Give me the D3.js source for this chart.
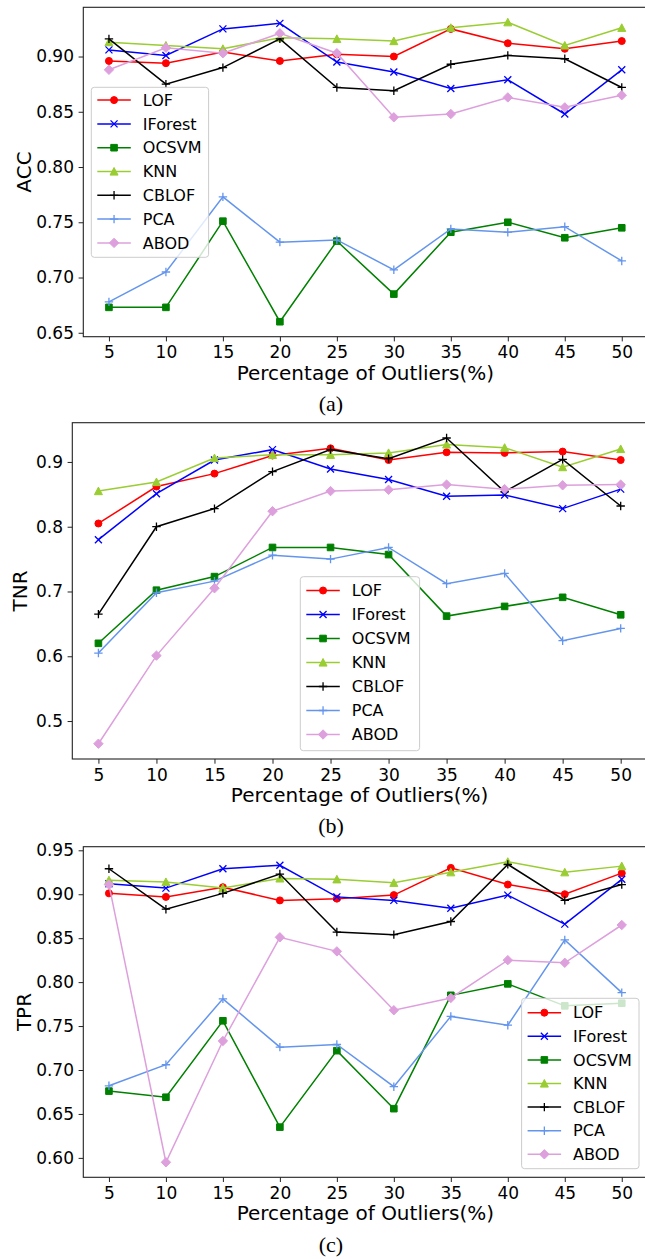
<!DOCTYPE html>
<html>
<head>
<meta charset="utf-8">
<script src="https://cdn.jsdelivr.net/npm/d3@7"></script>
<style>
	body { margin: 0; background: #fff; }
	svg { display: block; }
	text { font-family: "DejaVu Sans", sans-serif; fill: #000; }
</style>
</head>
<body>
<svg id="fig"></svg>
<script>
// outlier percentages on the x axis
const percentages = [5, 10, 15, 20, 25, 30, 35, 40, 45, 50];
const methods = ["LOF", "IForest", "OCSVM", "KNN", "CBLOF", "PCA", "ABOD"];
const colors = ["red", "blue", "green", "yellowgreen", "black", "cornflowerblue", "plum"];
const markers = ["circle", "x", "square", "triangle", "plus", "plus", "diamond"];

// (a) ACC
const accLOF = [0.896, 0.894, 0.904, 0.896, 0.902, 0.900, 0.925, 0.912, 0.907, 0.914];
const accIForest = [0.906, 0.901, 0.925, 0.930, 0.895, 0.886, 0.871, 0.879, 0.848, 0.888];
const accOCSVM = [0.673, 0.673, 0.751, 0.660, 0.733, 0.685, 0.741, 0.750, 0.736, 0.745];
const accKNN = [0.913, 0.910, 0.907, 0.917, 0.916, 0.914, 0.926, 0.931, 0.910, 0.926];
const accCBLOF = [0.916, 0.875, 0.890, 0.916, 0.872, 0.869, 0.893, 0.901, 0.898, 0.872];
const accPCA = [0.678, 0.705, 0.773, 0.732, 0.734, 0.707, 0.744, 0.741, 0.746, 0.715];
const accABOD = [0.888, 0.908, 0.903, 0.921, 0.903, 0.845, 0.848, 0.863, 0.854, 0.865];

// (b) TNR
const tnrLOF = [0.805, 0.862, 0.882, 0.910, 0.921, 0.903, 0.915, 0.914, 0.916, 0.903];
const tnrIForest = [0.780, 0.851, 0.903, 0.919, 0.889, 0.873, 0.847, 0.849, 0.828, 0.858];
const tnrOCSVM = [0.620, 0.702, 0.723, 0.768, 0.768, 0.757, 0.662, 0.677, 0.691, 0.664];
const tnrKNN = [0.855, 0.869, 0.906, 0.911, 0.911, 0.914, 0.927, 0.922, 0.892, 0.920];
const tnrCBLOF = [0.665, 0.800, 0.828, 0.885, 0.919, 0.905, 0.937, 0.854, 0.904, 0.832];
const tnrPCA = [0.605, 0.698, 0.716, 0.756, 0.750, 0.768, 0.712, 0.728, 0.624, 0.643];
const tnrABOD = [0.465, 0.601, 0.705, 0.824, 0.855, 0.857, 0.865, 0.858, 0.864, 0.865];

// (c) TPR
const tprLOF = [0.901, 0.897, 0.908, 0.893, 0.895, 0.899, 0.930, 0.911, 0.900, 0.924];
const tprIForest = [0.912, 0.907, 0.929, 0.933, 0.897, 0.893, 0.884, 0.899, 0.866, 0.917];
const tprOCSVM = [0.676, 0.669, 0.756, 0.635, 0.722, 0.656, 0.785, 0.798, 0.773, 0.776];
const tprKNN = [0.916, 0.914, 0.907, 0.918, 0.917, 0.913, 0.925, 0.937, 0.925, 0.932];
const tprCBLOF = [0.929, 0.883, 0.901, 0.923, 0.857, 0.854, 0.869, 0.934, 0.893, 0.911];
const tprPCA = [0.682, 0.706, 0.781, 0.726, 0.729, 0.681, 0.761, 0.751, 0.848, 0.788];
const tprABOD = [0.911, 0.595, 0.733, 0.851, 0.835, 0.768, 0.782, 0.825, 0.822, 0.865];

// y tick values
const accTicks = [0.65, 0.70, 0.75, 0.80, 0.85, 0.90];
const tnrTicks = [0.5, 0.6, 0.7, 0.8, 0.9];
const tprTicks = [0.60, 0.65, 0.70, 0.75, 0.80, 0.85, 0.90, 0.95];

const W = 645, H = 1259;
const svg = d3.select("svg#fig").attr("width", W).attr("height", H);

const panels = [
	{
		caption: "(a)", ylabel: "ACC", ticks: accTicks, fmt: ".2f",
		series: [accLOF, accIForest, accOCSVM, accKNN, accCBLOF, accPCA, accABOD],
		left: 83.3, right: 647.4, top: 7.3, bottom: 336.7, ylabelX: 30.9,
		legend: { x: 91.3, y: 87.3, w: 117.3, h: 170, row0: 12.8, step: 23.8 },
	},
	{
		caption: "(b)", ylabel: "TNR", ticks: tnrTicks, fmt: ".1f",
		series: [tnrLOF, tnrIForest, tnrOCSVM, tnrKNN, tnrCBLOF, tnrPCA, tnrABOD],
		left: 72.3, right: 646.8, top: 422.7, bottom: 759, ylabelX: 26.7,
		legend: { x: 300.3, y: 576.7, w: 119.3, h: 174, row0: 13.8, step: 24 },
	},
	{
		caption: "(c)", ylabel: "TPR", ticks: tprTicks, fmt: ".2f",
		series: [tprLOF, tprIForest, tprOCSVM, tprKNN, tprCBLOF, tprPCA, tprABOD],
		left: 83.3, right: 647.4, top: 846.7, bottom: 1177.3, ylabelX: 30.5,
		legend: { x: 521.6, y: 998.3, w: 117.4, h: 170.4, row0: 14.4, step: 23.6 },
	},
];

// marker shapes, matplotlib style
function markerPath(type) {
	switch (type) {
		case "circle": return d3.symbol(d3.symbolCircle, Math.PI * 3.5 * 3.5)();
		case "square": return "M-3.3,-3.3H3.3V3.3H-3.3Z";
		case "triangle": return "M0,-4L4,3.6L-4,3.6Z";
		case "diamond": return "M0,-4.7L4.7,0L0,4.7L-4.7,0Z";
		case "x": return "M-3.5,-3.5L3.5,3.5M-3.5,3.5L3.5,-3.5";
		case "plus": return "M-4.2,0H4.2M0,-4.2V4.2";
	}
}
const lineOnly = (t) => t === "x" || t === "plus";

function drawMarker(g, type, color, x, y) {
	g.append("path")
		.attr("d", markerPath(type))
		.attr("transform", `translate(${x},${y})`)
		.attr("fill", lineOnly(type) ? "none" : color)
		.attr("stroke", color)
		.attr("stroke-width", lineOnly(type) ? 1.3 : 1);
}

function pad(ext) {
	const p = (ext[1] - ext[0]) * 0.05;
	return [ext[0] - p, ext[1] + p];
}

panels.forEach((p) => {
	const g = svg.append("g");
	const x = d3.scaleLinear().domain(pad(d3.extent(percentages))).range([p.left, p.right]);
	const y = d3.scaleLinear().domain(pad(d3.extent(p.series.flat()))).range([p.bottom, p.top]);

	// axes
	const xAxis = d3.axisBottom(x).tickValues(percentages).tickSize(4.7).tickPadding(4.8).tickSizeOuter(0);
	const yAxis = d3.axisLeft(y).tickValues(p.ticks).tickFormat(d3.format(p.fmt)).tickSize(4.7).tickPadding(4.6).tickSizeOuter(0);

	const gx = g.append("g").attr("transform", `translate(0,${p.bottom})`).call(xAxis);
	const gy = g.append("g").attr("transform", `translate(${p.left},0)`).call(yAxis);
	[gx, gy].forEach((a) => {
		a.select(".domain").remove();
		a.selectAll("line").attr("stroke", "#222").attr("stroke-width", 1);
		a.selectAll("text").attr("font-size", 17).attr("font-family", "DejaVu Sans").attr("fill", "#000");
	});

	// series lines + markers
	p.series.forEach((vals, i) => {
		const pts = percentages.map((d, j) => [x(d), y(vals[j])]);
		g.append("path")
			.attr("d", d3.line()(pts))
			.attr("fill", "none")
			.attr("stroke", colors[i])
			.attr("stroke-width", 1.5);
		const mg = g.append("g");
		pts.forEach((pt) => drawMarker(mg, markers[i], colors[i], pt[0], pt[1]));
	});

	// frame
	g.append("rect")
		.attr("x", p.left).attr("y", p.top)
		.attr("width", p.right - p.left).attr("height", p.bottom - p.top)
		.attr("fill", "none").attr("stroke", "#222").attr("stroke-width", 1.1);

	// axis labels
	g.append("text")
		.attr("x", (p.left + p.right) / 2).attr("y", p.bottom + 43)
		.attr("text-anchor", "middle").attr("font-size", 20)
		.text("Percentage of Outliers(%)");
	g.append("text")
		.attr("transform", `translate(${p.ylabelX},${(p.top + p.bottom) / 2}) rotate(-90)`)
		.attr("text-anchor", "middle").attr("font-size", 20)
		.text(p.ylabel);

	// legend
	const L = p.legend;
	const lg = g.append("g");
	lg.append("rect")
		.attr("x", L.x).attr("y", L.y).attr("width", L.w).attr("height", L.h)
		.attr("rx", 3)
		.attr("fill", "#fff").attr("fill-opacity", 0.8)
		.attr("stroke", "#ccc").attr("stroke-width", 1);
	methods.forEach((m, i) => {
		const ry = L.y + L.row0 + i * L.step;
		lg.append("line")
			.attr("x1", L.x + 6).attr("x2", L.x + 39.5)
			.attr("y1", ry).attr("y2", ry)
			.attr("stroke", colors[i]).attr("stroke-width", 1.5);
		drawMarker(lg, markers[i], colors[i], L.x + 22.75, ry);
		lg.append("text")
			.attr("x", L.x + 51.5).attr("y", ry).attr("dy", "0.36em")
			.attr("font-size", 16)
			.text(m);
	});

	// sub-figure caption
	svg.append("text")
		.attr("x", 331).attr("y", p.bottom + 74.3)
		.attr("text-anchor", "middle")
		.style("font-family", '"Liberation Serif", "Times New Roman", serif')
		.attr("font-size", 22)
		.text(p.caption);
});
</script>
</body>
</html>
